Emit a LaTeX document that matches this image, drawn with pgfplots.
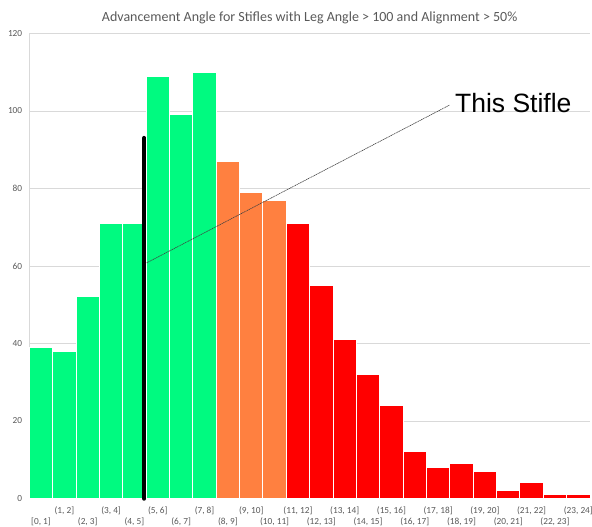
\documentclass[border=0pt]{standalone}
\usepackage{fontspec}
\setmainfont{Carlito}
\newfontfamily\arialfont{Liberation Sans}
\usepackage{pgfplots}
\pgfplotsset{compat=1.18}
\definecolor{sgreen}{RGB}{0,250,128}
\definecolor{sorange}{RGB}{255,128,64}
\definecolor{sred}{RGB}{255,0,0}
\definecolor{txtgray}{RGB}{89,89,89}
\definecolor{gridgray}{RGB}{217,217,217}
\begin{document}
\begin{tikzpicture}
\path[use as bounding box] (0,0) rectangle (592pt,527pt);
\begin{axis}[
  at={(29.3pt,28.5pt)}, anchor=south west, scale only axis,
  width=560.7pt, height=465pt,
  xmin=0, xmax=24, ymin=0, ymax=120,
  axis lines=left,
  axis line style={-, gridgray, line width=0.75pt},
  ytick={0,20,...,120},
  ymajorgrids, grid style={gridgray, line width=0.75pt},
  major tick length=0pt,
  xtick={1.5,3.5,...,23.5},
  xticklabels={{(1, 2]},{(3, 4]},{(5, 6]},{(7, 8]},{(9, 10]},{(11, 12]},{(13, 14]},{(15, 16]},{(17, 18]},{(19, 20]},{(21, 22]},{(23, 24]}},
  extra x ticks={0.5,2.5,...,22.5},
  extra x tick labels={{[0, 1]},{(2, 3]},{(4, 5]},{(6, 7]},{(8, 9]},{(10, 11]},{(12, 13]},{(14, 15]},{(16, 17]},{(18, 19]},{(20, 21]},{(22, 23]}},
  extra x tick style={xticklabel style={yshift=-11pt}},
  xticklabel style={yshift=-4.5pt},
  yticklabel style={xshift=-3.6pt},
  tick label style={font=\fontsize{9.3}{10}\selectfont, text=txtgray},
  /pgf/number format/assume math mode=true,
  title={Advancement Angle for Stifles with Leg Angle > 100 and Alignment > 50\%},
  title style={font=\fontsize{14}{16}\selectfont, text=txtgray, at={(0.5,1)}, anchor=center, yshift=9.5pt},
  clip=false,
]
\addplot[ybar, bar width=1, bar shift=0pt, fill=sgreen, draw=white, line width=1pt]
  coordinates {(0.5,39) (1.5,38) (2.5,52) (3.5,71) (4.5,71) (5.5,109) (6.5,99) (7.5,110)};
\addplot[ybar, bar width=1, bar shift=0pt, fill=sorange, draw=white, line width=1pt]
  coordinates {(8.5,87) (9.5,79) (10.5,77)};
\addplot[ybar, bar width=1, bar shift=0pt, fill=sred, draw=white, line width=1pt]
  coordinates {(11.5,71) (12.5,55) (13.5,41) (14.5,32) (15.5,24) (16.5,12) (17.5,8) (18.5,9) (19.5,7) (20.5,2) (21.5,4) (22.5,1) (23.5,1)};
\addplot[black, line width=4.5pt, line cap=round, no marks] coordinates {(4.92,0) (4.92,93)};
\addplot[black!75, line width=0.6pt, dash pattern=on 1.2pt off 0.6pt, no marks] coordinates {(5.02,60.8) (17.98,101.5)};
\node[anchor=base west, inner sep=0pt, font=\arialfont\fontsize{26.5}{30}\selectfont] at (axis cs:18.22,99.5) {This Stifle};
\end{axis}
\end{tikzpicture}
\end{document}
